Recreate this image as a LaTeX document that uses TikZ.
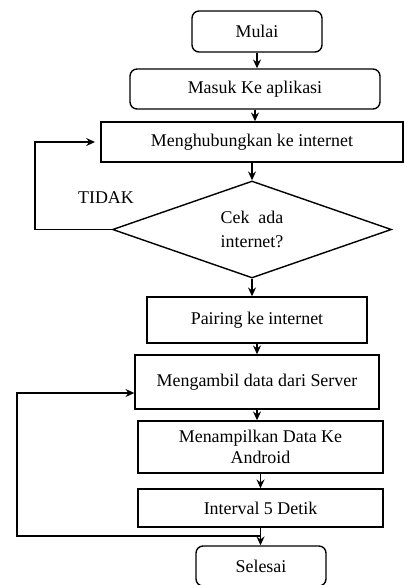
\documentclass[tikz,border=0pt]{standalone}
\usepackage{fontspec}
\setmainfont{Liberation Serif}
\usetikzlibrary{shapes.geometric, arrows.meta}

\begin{document}
\begin{tikzpicture}
            [x=0.02cm, y=-0.02cm, ->, >={Stealth[length=5pt, width=4.5pt]}, line width=0.8pt,
             font=\fontsize{10.2}{12}\selectfont,
             terminal/.style={shape=rectangle, rounded corners=4pt, draw=black, align=center},
             proses/.style={shape=rectangle, draw=black, align=center},
             keputusan/.style={shape=diamond, draw=black, align=center, aspect=2.9, inner sep=0pt,
                               font=\fontsize{10.2}{14}\selectfont}]
            \clip (0, 0) rectangle (404, 585);
            \node[terminal, minimum width=2.6cm, minimum height=0.82cm] (mulai) at (257, 31.5) {Mulai};
            \node[terminal, minimum width=5cm, minimum height=0.8cm] (masuk) at (255, 89) {Masuk Ke aplikasi};
            \node[proses, minimum width=6.04cm, minimum height=0.8cm] (hubung) at (252, 142) {Menghubungkan ke internet};
            \node[keputusan, minimum width=5.58cm, minimum height=1.94cm] (cek) at (252, 229.5) {Cek\ \ ada\\internet?};
            \node[proses, minimum width=4.4cm, minimum height=0.92cm] (pairing) at (257, 320) {Pairing ke internet};
            \node[proses, minimum width=4.88cm, minimum height=1.08cm] (ambil) at (257, 382) {Mengambil data dari Server};
            \node[proses, minimum width=4.9cm, minimum height=1.04cm] (tampil) at (260.5, 447) {Menampilkan Data Ke\\Android};
            \node[proses, minimum width=4.9cm, minimum height=0.76cm] (interval) at (260.5, 508) {Interval 5 Detik};
            \node[terminal, minimum width=2.6cm, minimum height=0.8cm] (selesai) at (261, 566) {Selesai};
            \node[draw=none] (tidak) at (106, 198) {TIDAK};
            \coordinate (balik) at (260.5, 536);

            \path [->] (mulai) edge (mulai |- masuk.north);
            \path [->] (masuk) edge (masuk |- hubung.north);
            \path [->] (hubung) edge (hubung |- cek.north);
            \path [->] (cek) edge (cek |- pairing.north);
            \path [->] (pairing) edge (pairing |- ambil.north);
            \path [->] (ambil) edge (ambil |- tampil.north);
            \path [->] (tampil) edge (tampil |- interval.north);
            \path [->] (interval) edge (interval |- selesai.north);
            \draw [->, shorten >=3pt] (cek.west) -- ++(-77, 0) |- (hubung.west);
            \draw [->] (balik) -- ++(-243.5, 0) |- ([yshift=-0.22cm]ambil.west);
        \end{tikzpicture}
\end{document}
